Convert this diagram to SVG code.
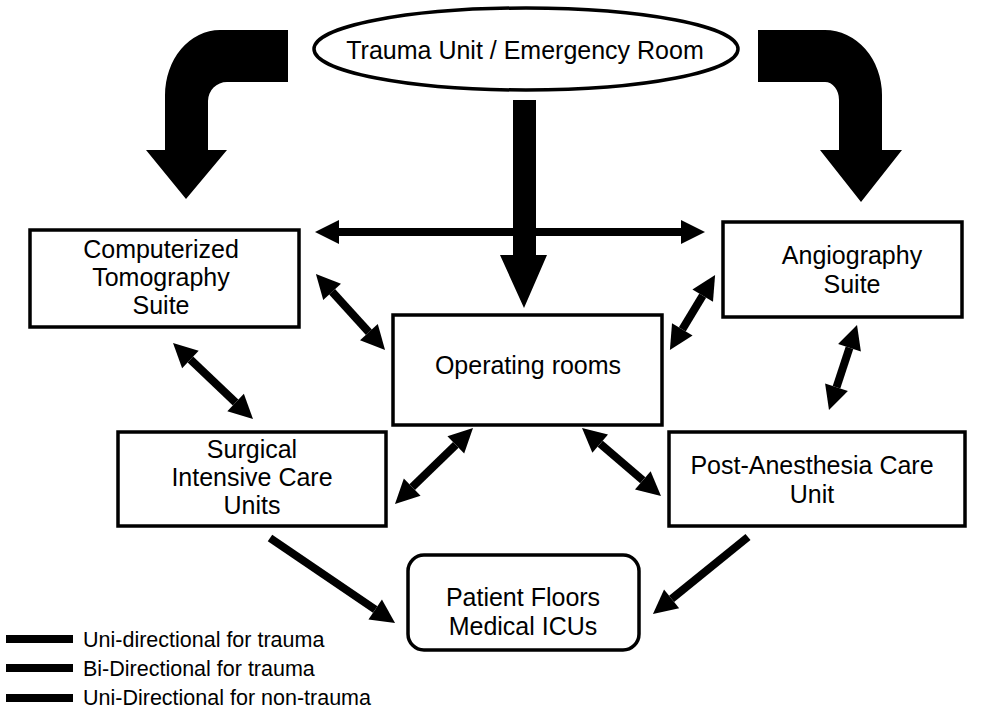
<svg xmlns="http://www.w3.org/2000/svg" width="993" height="709" viewBox="0 0 993 709">
  <style>
    .box { fill: #fff; stroke: #000; stroke-width: 3.5; }
    .lbl { font-family: "Liberation Sans", Arial, sans-serif; font-size: 25px; fill: #000; text-anchor: middle; }
    .leg { font-family: "Liberation Sans", Arial, sans-serif; font-size: 21.5px; fill: #000; }
    .bi { stroke: #000; stroke-width: 8; fill: none; marker-start: url(#head); marker-end: url(#head); }
    .uni { stroke: #000; stroke-width: 8; fill: none; marker-end: url(#head); }
    .big { fill: #000; }
    .legline { stroke: #000; stroke-width: 8; }
  </style>
  <defs>
    <!-- arrowhead drawn forward from the line end: base at 0, tip at 24 -->
    <marker id="head" markerUnits="userSpaceOnUse" markerWidth="26" markerHeight="26" refX="0" refY="12" orient="auto-start-reverse" viewBox="0 0 26 24" overflow="visible">
      <path d="M0,0 L24,12 L0,24 Z" fill="#000"/>
    </marker>
  </defs>

  <rect width="993" height="709" fill="#fff"/>

  <!-- connectors -->
  <g id="connectors">
    <!-- large trauma flow arrows from the emergency room -->
    <path class="big" d="M288,30 H220 A55,65 0 0 0 165,95 V150 H146 L186,199 L227,150 H208 V101 A19,19 0 0 1 227,82 H288 Z"/>
    <path class="big" d="M758,30 H825 A57,65 0 0 1 882,95 V150 H902 L861,202 L820,150 H839 V100 A14,18 0 0 0 825,82 H758 Z"/>
    <path class="big" d="M513,100 H536 V255 H547 L524,308 L500,255 H513 Z"/>

    <!-- bi-directional links -->
    <line class="bi" x1="339" y1="232" x2="681" y2="232"/>
    <line class="bi" x1="332.1" y1="291.8" x2="368.9" y2="332.2"/>
    <line class="bi" x1="702.7" y1="295.6" x2="682.3" y2="329.4"/>
    <line class="bi" x1="190.4" y1="359.5" x2="235.6" y2="402.5"/>
    <line class="bi" x1="849.5" y1="347.8" x2="836.5" y2="387.2"/>
    <line class="bi" x1="455.8" y1="444.8" x2="412.2" y2="487.2"/>
    <line class="bi" x1="600.2" y1="443.7" x2="642.8" y2="480.3"/>

    <!-- uni-directional links to the floors -->
    <line class="uni" x1="270" y1="538" x2="375.2" y2="609.5"/>
    <line class="uni" x1="748" y1="537" x2="671.6" y2="598.9"/>
  </g>

  <g id="trauma-unit">
    <ellipse class="box" cx="526" cy="49" rx="212" ry="41"/>
    <text class="lbl" x="525" y="59">Trauma Unit / Emergency Room</text>
  </g>

  <g id="ct-suite">
    <rect class="box" x="30" y="230" width="269" height="97"/>
    <text class="lbl" x="161" y="258">Computerized</text>
    <text class="lbl" x="161" y="286">Tomography</text>
    <text class="lbl" x="161" y="314">Suite</text>
  </g>

  <g id="angio-suite">
    <rect class="box" x="723" y="222" width="239" height="95"/>
    <text class="lbl" x="852" y="264">Angiography</text>
    <text class="lbl" x="852" y="293">Suite</text>
  </g>

  <g id="operating-rooms">
    <rect class="box" x="393" y="315" width="269" height="110"/>
    <text class="lbl" x="528" y="374">Operating rooms</text>
  </g>

  <g id="sicu">
    <rect class="box" x="118" y="432" width="268" height="94"/>
    <text class="lbl" x="252" y="458">Surgical</text>
    <text class="lbl" x="252" y="486">Intensive Care</text>
    <text class="lbl" x="252" y="514">Units</text>
  </g>

  <g id="pacu">
    <rect class="box" x="669" y="432" width="296" height="94"/>
    <text class="lbl" x="812" y="474">Post-Anesthesia Care</text>
    <text class="lbl" x="812" y="503">Unit</text>
  </g>

  <g id="patient-floors">
    <rect class="box" x="408" y="555" width="231" height="95" rx="16" ry="16"/>
    <text class="lbl" x="523" y="606">Patient Floors</text>
    <text class="lbl" x="523" y="635">Medical ICUs</text>
  </g>

  <g id="legend">
    <line class="legline" x1="6" y1="639" x2="73" y2="639"/>
    <text class="leg" x="83" y="647">Uni-directional for trauma</text>
    <line class="legline" x1="6" y1="668" x2="73" y2="668"/>
    <text class="leg" x="83" y="676">Bi-Directional for trauma</text>
    <line class="legline" x1="6" y1="698" x2="73" y2="698"/>
    <text class="leg" x="83" y="705">Uni-Directional for non-trauma</text>
  </g>
</svg>
